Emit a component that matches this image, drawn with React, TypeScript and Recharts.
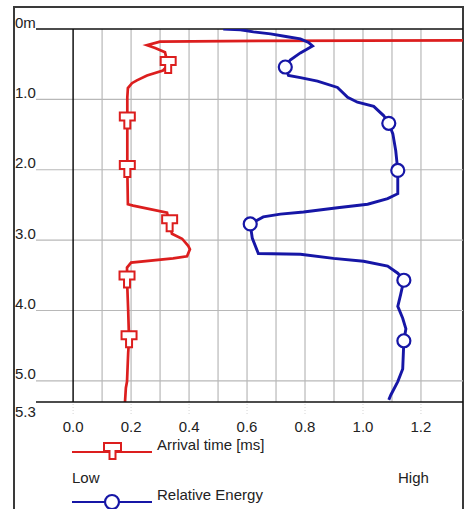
import { LineChart, Line, XAxis, YAxis, ReferenceLine } from "recharts";

// depth (m) and arrival time (ms)
const arrivalDepth = [0.16, 0.17, 0.18, 0.23, 0.27, 0.33, 0.42, 0.51, 0.59, 0.66, 0.73, 0.77, 0.84, 0.97, 1.3, 1.99, 2.49, 2.51, 2.61, 2.76, 2.91, 2.98, 3.08, 3.13, 3.23, 3.26, 3.32, 3.39, 3.56, 4.0, 4.41, 4.6, 5.01, 5.1, 5.3];
const arrivalTime = [1.6, 0.64, 0.3, 0.255, 0.283, 0.317, 0.322, 0.328, 0.31, 0.255, 0.22, 0.203, 0.189, 0.187, 0.187, 0.187, 0.189, 0.207, 0.324, 0.333, 0.341, 0.376, 0.397, 0.403, 0.393, 0.345, 0.2, 0.186, 0.186, 0.19, 0.193, 0.19, 0.186, 0.182, 0.179];
const arrivalMarks = [0.51, 1.3, 1.99, 2.76, 3.56, 4.41];

// depth (m) and relative energy
const energyDepth = [0, 0.01, 0.04, 0.07, 0.11, 0.14, 0.19, 0.24, 0.34, 0.44, 0.54, 0.66, 0.69, 0.74, 0.83, 0.97, 1.04, 1.1, 1.23, 1.34, 1.49, 1.73, 2.01, 2.34, 2.41, 2.49, 2.54, 2.6, 2.63, 2.67, 2.77, 2.97, 3.19, 3.2, 3.26, 3.3, 3.37, 3.47, 3.57, 3.77, 3.94, 4.11, 4.26, 4.43, 4.83, 5.01, 5.2, 5.27];
const energyLevel = [0.518, 0.577, 0.622, 0.681, 0.739, 0.784, 0.812, 0.826, 0.784, 0.749, 0.732, 0.743, 0.784, 0.843, 0.912, 0.947, 0.981, 1.037, 1.071, 1.089, 1.103, 1.113, 1.12, 1.12, 1.085, 1.016, 0.912, 0.795, 0.715, 0.656, 0.611, 0.618, 0.639, 0.784, 0.898, 1.002, 1.085, 1.12, 1.141, 1.13, 1.12, 1.137, 1.148, 1.141, 1.137, 1.12, 1.096, 1.089];
const energyMarks = [0.54, 1.34, 2.01, 2.77, 3.57, 4.43];

const xTicks = [0, 0.2, 0.4, 0.6, 0.8, 1.0, 1.2];
const xGrid = [0.1, 0.2, 0.3, 0.4, 0.5, 0.6, 0.7, 0.8, 0.9, 1.0, 1.1, 1.2];
const depthTicks = [0, 1, 2, 3, 4, 5, 5.3];
const depthGrid = [1, 2, 3, 4, 5];
const seriesNames = ["Arrival time [ms]", "Relative Energy"];
const energyScale = ["Low", "High"];

const RED = "#dc1e1e";
const BLUE = "#1616a6";
const FONT = "'Liberation Sans', Arial, sans-serif";
const FS = 15;

const arrivalData = arrivalDepth.map((d, i) => ({ depth: d, value: arrivalTime[i], mark: arrivalMarks.includes(d) }));
const energyData = energyDepth.map((d, i) => ({ depth: d, value: energyLevel[i], mark: energyMarks.includes(d) }));

const tPath = (cx: number, cy: number) =>
  `M${cx - 7.5},${cy - 8} h15 v8 h-4.5 v8 h-6 v-8 h-4.5 Z`;

function TDot(props: any) {
  const { cx, cy, payload, index } = props;
  if (!payload.mark) return <g key={`t${index}`} />;
  return <path key={`t${index}`} d={tPath(cx, cy)} fill="#fff" stroke={RED} strokeWidth={2} />;
}

function CircleDot(props: any) {
  const { cx, cy, payload, index } = props;
  if (!payload.mark) return <g key={`c${index}`} />;
  return <circle key={`c${index}`} cx={cx} cy={cy} r={6.5} fill="#fff" stroke={BLUE} strokeWidth={2.2} />;
}

function DepthTick(props: any) {
  const { y, payload } = props;
  const v = payload.value;
  const label = v === 0 ? "0m" : v.toFixed(1);
  const yy = v === 5.3 ? y + 15 : y - 1.5;
  return (
    <text x={15} y={yy} fontSize={FS} fontFamily={FONT} fill="#222" textAnchor="start">
      {label}
    </text>
  );
}

export default function App() {
  return (
    <div style={{ position: "absolute", left: 0, top: 0, width: 471, height: 509, overflow: "hidden", background: "#fff" }}>
      <div
        style={{
          position: "absolute",
          left: 13,
          top: 6,
          width: 451,
          height: 600,
          boxSizing: "border-box",
          borderLeft: "2px solid #3a3a3a",
          borderTop: "2px solid #3a3a3a",
          borderRight: "2px solid #3a3a3a",
        }}
      />
      <div style={{ position: "absolute", left: 0, top: 0 }}>
        <LineChart width={471} height={509} layout="vertical" margin={{ top: 29, right: 8, bottom: 77, left: 0 }}>
          {xGrid.map((g) => (
            <ReferenceLine key={`x${g}`} x={g} stroke="#b8b8b8" strokeWidth={1.2} />
          ))}
          {depthGrid.map((g) => (
            <ReferenceLine key={`y${g}`} y={g} stroke="#b8b8b8" strokeWidth={1.2} />
          ))}
          <ReferenceLine x={0} stroke="#111" strokeWidth={1.5} />
          <ReferenceLine y={0} stroke="#111" strokeWidth={1.5} />
          <XAxis
            type="number"
            dataKey="value"
            domain={[-0.128, 1.345]}
            allowDataOverflow
            ticks={xTicks}
            tickFormatter={(v: number) => v.toFixed(1)}
            axisLine={{ stroke: "#111", strokeWidth: 1.5 }}
            tickLine={{ stroke: "#d4d4d4", strokeDasharray: "1 2" }}
            tickSize={12}
            tickMargin={7}
            height={30}
            tick={{ fontSize: FS, fontFamily: FONT, fill: "#222" }}
            interval={0}
          />
          <YAxis
            type="number"
            dataKey="depth"
            domain={[0, 5.3]}
            allowDataOverflow
            ticks={depthTicks}
            width={36}
            axisLine={false}
            tickLine={false}
            tick={<DepthTick />}
            interval={0}
          />
          <Line
            data={arrivalData}
            dataKey="value"
            name={seriesNames[0]}
            stroke={RED}
            strokeWidth={2.7}
            dot={TDot}
            activeDot={false}
            isAnimationActive={false}
          />
          <Line
            data={energyData}
            dataKey="value"
            name={seriesNames[1]}
            stroke={BLUE}
            strokeWidth={2.9}
            dot={CircleDot}
            activeDot={false}
            isAnimationActive={false}
          />
        </LineChart>
      </div>
      <svg style={{ position: "absolute", left: 0, top: 0 }} width={471} height={509}>
        <line x1={72} y1={452} x2={152} y2={452} stroke={RED} strokeWidth={2} />
        <path d={`M104,443 h17 v8 h-5.5 v8 h-6 v-8 h-5.5 Z`} fill="#fff" stroke={RED} strokeWidth={2} />
        <text x={157} y={450} fontSize={FS} fontFamily={FONT} fill="#222">{seriesNames[0]}</text>
        <text x={72} y={483} fontSize={FS} fontFamily={FONT} fill="#222">{energyScale[0]}</text>
        <text x={398} y={483} fontSize={FS} fontFamily={FONT} fill="#222">{energyScale[1]}</text>
        <line x1={72} y1={502} x2={152} y2={502} stroke={BLUE} strokeWidth={2} />
        <circle cx={112} cy={502} r={7} fill="#fff" stroke={BLUE} strokeWidth={2.2} />
        <text x={157} y={500} fontSize={FS} fontFamily={FONT} fill="#222">{seriesNames[1]}</text>
      </svg>
    </div>
  );
}
